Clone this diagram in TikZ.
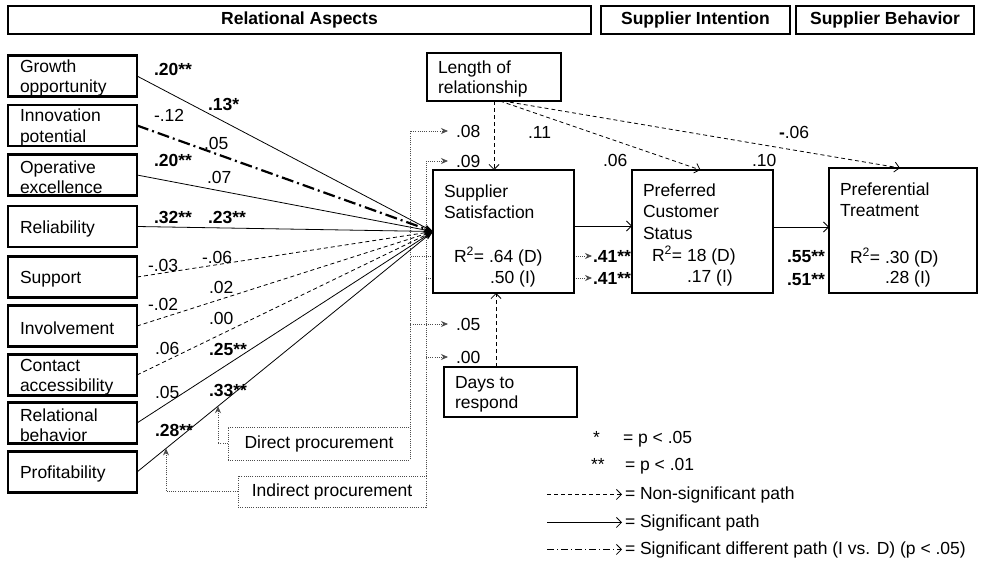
\documentclass[tikz,border=0pt]{standalone}
\usepackage{fontspec}
\setmainfont{Liberation Sans}
\usetikzlibrary{arrows.meta,calc}
\pgfdeclarelayer{background}
\pgfsetlayers{background,main}
% tall strut that pushes factor labels slightly down in their boxes
\newcommand{\factortop}{\rule{0pt}{17pt}}

\begin{document}
\begin{tikzpicture}[x=1pt,y=-1pt,
  every node/.style={inner sep=0pt, outer sep=0pt, font=\fontsize{17.5}{20.5}\selectfont},
  hdr/.style={draw, line width=2pt, minimum height=28pt, font=\fontsize{17.5}{20.5}\selectfont\bfseries},
  factor/.style={draw, line width=2.5pt, minimum width=129pt, minimum height=41pt, text width=105pt, align=left},
  mainbox/.style={draw, line width=2.5pt, fill=white},
  procbox/.style={draw=black!70, line width=0.8pt, dash pattern=on 1pt off 1.2pt, fill=white},
  txt/.style={anchor=base west},
  coef/.style={anchor=west},
  sigpath/.style={line width=0.8pt, -{Stealth[length=9pt,width=6pt]}},
  nspath/.style={line width=0.8pt, dash pattern=on 4pt off 3pt, -{Stealth[length=9pt,width=6pt]}},
  difpath/.style={line width=2.2pt, dash pattern=on 12pt off 4pt on 2pt off 4pt, -{Stealth[length=9pt,width=6pt]}},
  opensig/.style={line width=0.8pt, -{Straight Barb[length=5pt,width=10pt]}},
  openns/.style={line width=0.8pt, dash pattern=on 4pt off 3pt, -{Straight Barb[length=5pt,width=10pt]}},
  opendif/.style={line width=0.8pt, dash pattern=on 7pt off 3pt on 1pt off 3pt, -{Straight Barb[length=5pt,width=10pt]}},
  proc/.style={draw=black!70, line width=0.8pt, dash pattern=on 1pt off 1.2pt, -{Stealth[length=7pt,width=6pt]}},
]
\useasboundingbox (0,0) rectangle (989,565);

% column headers
\node[hdr, minimum width=583pt] (hra) at (299.5,20) {Relational Aspects};
\node[hdr, minimum width=189pt] (hsi) at (695.5,20) {Supplier Intention};
\node[hdr, minimum width=178pt] (hsb) at (885,20) {Supplier Behavior};

% relational aspects
\node[factor] (gro)  at (72.5,76)    {\factortop Growth\\opportunity};
\node[factor] (inn)  at (72.5,125.5) {\factortop Innovation\\potential};
\node[factor] (ope)  at (72.5,175)   {\factortop Operative\\excellence};
\node[factor] (rel)  at (72.5,226.5) {\factortop Reliability};
\node[factor] (sup)  at (72.5,277)   {\factortop Support};
\node[factor] (inv)  at (72.5,326)   {\factortop Involvement};
\node[factor] (con)  at (72.5,375)   {\factortop Contact\\accessibility};
\node[factor] (rbh)  at (72.5,423)   {\factortop Relational\\behavior};
\node[factor] (prof) at (72.5,472)   {\factortop Profitability};

% constructs
\node[mainbox, minimum width=141pt, minimum height=123pt] (ss)  at (503.5,231.5) {};
\node[mainbox, minimum width=141pt, minimum height=123pt] (pcs) at (702.5,231.5) {};
\node[mainbox, minimum width=148pt, minimum height=125pt] (pt)  at (903,230.5) {};
\node[mainbox, minimum width=134pt, minimum height=48pt]  (lr)  at (494,77) {};
\node[mainbox, minimum width=133pt, minimum height=50pt]  (dr)  at (510.5,392) {};

\node[txt] (ss1) at (444,197) {Supplier};
\node[txt] (ss2) at (444,218) {Satisfaction};
\node[txt] (ss3) at (454,262) {R\textsuperscript{2}= .64 (D)};
\node[txt] (ss4) at (490,283) {.50 (I)};

\node[txt] (pc1) at (643,196) {Preferred};
\node[txt] (pc2) at (643,217) {Customer};
\node[txt] (pc3) at (643,239) {Status};
\node[txt] (pc4) at (652,261) {R\textsuperscript{2}= 18 (D)};
\node[txt] (pc5) at (687,282) {.17 (I)};

\node[txt] (pt1) at (840,195) {Preferential};
\node[txt] (pt2) at (840,216) {Treatment};
\node[txt] (pt3) at (850,263) {R\textsuperscript{2}= .30 (D)};
\node[txt] (pt4) at (885,283) {.28 (I)};

\node[txt] (lr1) at (438,73) {Length of};
\node[txt] (lr2) at (438,93) {relationship};

\node[txt] (dr1) at (455,388) {Days to};
\node[txt] (dr2) at (455,408) {respond};

% moderator boxes
\node[procbox, minimum width=182pt, minimum height=33pt] (dp) at (319,443.5) {Direct procurement};
\node[procbox, minimum width=188pt, minimum height=31pt] (ip) at (332,491.5) {Indirect procurement};

% path coefficients of the relational aspects
\node[coef] (k1a) at (154,69)  {\textbf{.20**}};
\node[coef] (k1b) at (208,104) {\textbf{.13*}};
\node[coef] (k2a) at (154,115) {-.12};
\node[coef] (k2b) at (204,143) {.05};
\node[coef] (k3a) at (154,160) {\textbf{.20**}};
\node[coef] (k3b) at (207,177) {.07};
\node[coef] (k4a) at (154,217) {\textbf{.32**}};
\node[coef] (k4b) at (208,217) {\textbf{.23**}};
\node[coef] (k5a) at (148,265) {-.03};
\node[coef] (k5b) at (202,257) {-.06};
\node[coef] (k6a) at (148,304) {-.02};
\node[coef] (k6b) at (209,287) {.02};
\node[coef] (k7a) at (155,348) {.06};
\node[coef] (k7b) at (209,318) {.00};
\node[coef] (k8a) at (155,392) {.05};
\node[coef] (k8b) at (209,349) {\textbf{.25**}};
\node[coef] (k9a) at (155,430) {\textbf{.28**}};
\node[coef] (k9b) at (209,390) {\textbf{.33**}};

% coefficients of the controls and outcomes
\node[coef] (c08) at (456,131) {.08};
\node[coef] (c09) at (456,161) {.09};
\node[coef] (c05) at (456,324) {.05};
\node[coef] (c00) at (456,357) {.00};
\node[coef] (c41a) at (593,256) {\textbf{.41**}};
\node[coef] (c41b) at (593,278) {\textbf{.41**}};
\node[coef] (c55) at (787,257) {\textbf{.55**}};
\node[coef] (c51) at (787,280) {\textbf{.51**}};
\node[coef] (l11) at (528,132) {.11};
\node[coef] (l06) at (603,160) {.06};
\node[coef] (l10) at (752,160) {.10};
\node[coef] (l06b) at (779,132) {\textbf{-}.06};

% paths into supplier satisfaction
\foreach \b in {gro,ope,rel,rbh,prof} \draw[sigpath] (\b.east) -- (ss.west);
\foreach \b in {sup,inv,con} \draw[nspath] (\b.east) -- (ss.west);
\draw[difpath] (inn.east) -- (ss.west);

% structural paths
\draw[opensig] ([yshift=5.5pt]ss.east) -- ([yshift=5.5pt]pcs.west);
\draw[opensig] ([yshift=4.5pt]pcs.east) -- ([yshift=3.5pt]pt.west);

% control variables
\draw[openns] (lr.south) -- (lr.south |- ss.north);
\draw[openns] ([xshift=6pt]lr.south) -- ([xshift=-2pt]pcs.north);
\draw[openns] ([xshift=9pt]lr.south) -- ([xshift=-3pt]pt.north);
\draw[openns] ([xshift=-14.5pt]dr.north) -- ([xshift=-14.5pt]dr.north |- ss.south);

% moderation by procurement type
\coordinate (pA) at ($(prof.east)!0.2736!(ss.west)$);
\coordinate (pB) at ($(prof.east)!0.098!(ss.west)$);
\begin{pgfonlayer}{background}
  \draw[proc, shorten >=8pt] (dp.north east) |- (c08.west);
  \draw[proc, shorten >=8pt] (dp.north east) |- (c05.west);
  \draw[proc, shorten >=1pt] (dp.north east) |- (c41a.west);
  \draw[proc, shorten >=8pt] (ip.north east) |- (c09.west);
  \draw[proc, shorten >=8pt] (ip.north east) |- (c00.west);
  \draw[proc, shorten >=1pt] (ip.north east) |- (c41b.west);
\end{pgfonlayer}
\draw[proc] (dp.west) -| (pA);
\draw[proc] (ip.west) -| (pB);

% legend
\node[txt] (s1) at (593,443) {*};
\node[txt] (t1) at (623,443) {= p < .05};
\node[txt] (s2) at (591,470) {**};
\node[txt] (t2) at (625,470) {= p < .01};
\node[txt] (t3) at (625,499) {= Non-significant path};
\node[txt] (t4) at (625,527) {= Significant path};
\node[txt] (t5) at (625,554) {= Significant different path (I vs. D) (p < .05)};
\coordinate (g3) at (547,0);
\draw[openns]  (g3 |- t3.west) -- ([xshift=-3pt]t3.west);
\draw[opensig] (g3 |- t4.west) -- ([xshift=-3pt]t4.west);
\draw[opendif] (g3 |- t5.west) -- ([xshift=-3pt]t5.west);
\end{tikzpicture}
\end{document}
